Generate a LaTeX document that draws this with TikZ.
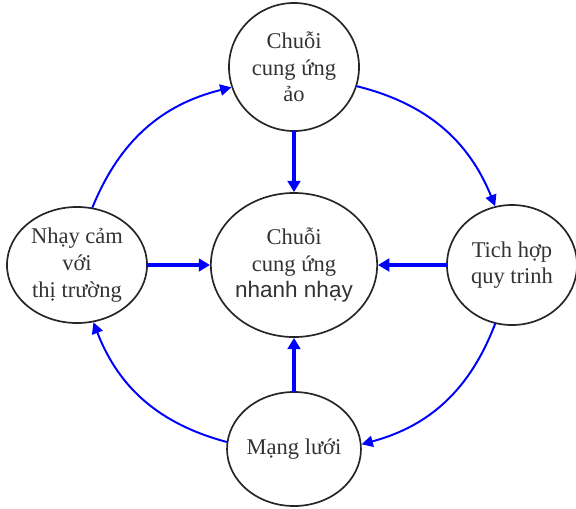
\documentclass[tikz,border=0pt]{standalone}
\usepackage{fontspec}
\setmainfont{Liberation Serif}
\newfontfamily\sanslb{Liberation Sans}
\usetikzlibrary{arrows.meta,shapes.geometric}

\begin{document}
\begin{tikzpicture}[x=0.025cm,y=-0.025cm,>={Triangle[length=7pt,width=7pt]},
    line cap=round,line join=round,
    oval@/.style={ellipse,draw=black!85,line width=1.2pt,inner sep=0pt,
      align=center,text=black!80,font=\fontsize{16}{19}\selectfont},
    loop@/.style={->,draw=blue,line width=1.4pt,
      >={Triangle[length=8pt,width=8pt]}},
    spoke@/.style={->,draw=blue,line width=2.2pt,
      >={Triangle[length=8pt,width=9pt]}}]
    \useasboundingbox (0,0) rectangle (576,508);

    % The hub and the four nodes round it.
    \node[oval@,minimum width=4.1cm,minimum height=3.6cm] (hub) at (294,265)
      {Chuỗi\\cung ứng\\{\sanslb nhanh nhạy}};
    \node[oval@,minimum width=3.25cm,minimum height=3.2cm] (virt) at (294,67)
      {Chuỗi\\cung ứng\\ảo};
    \node[oval@,minimum width=3.5cm,minimum height=2.9cm] (mkt) at (77,265)
      {Nhạy cảm\\với\\thị trường};
    \node[oval@,minimum width=3.25cm,minimum height=3.0cm] (proc) at (512,265)
      {Tich hợp\\quy trinh};
    \node[oval@,minimum width=3.3cm,minimum height=2.85cm] (net) at (294,449)
      {Mạng lưới};

    % The ring, clockwise.
    \draw[loop@] (mkt.75) to[bend left=27] (virt.198);
    \draw[loop@] (virt.343) to[bend left=27] (proc.106);
    \draw[loop@] (proc.254) to[bend left=27] (net.4);
    \draw[loop@] (net.174) to[bend left=27] (mkt.286);

    % The spokes into the hub.
    \draw[spoke@] (virt) -- (hub);
    \draw[spoke@] (mkt) -- (hub);
    \draw[spoke@] (proc) -- (hub);
    \draw[spoke@] (net) -- (hub);
  \end{tikzpicture}
\end{document}
